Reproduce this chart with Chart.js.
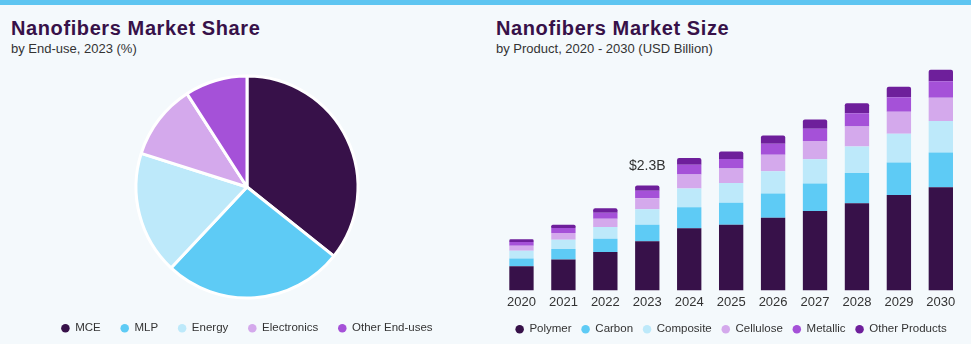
<!DOCTYPE html>
<html>
<head>
<meta charset="utf-8">
<script src="https://cdn.jsdelivr.net/npm/chart.js@4/dist/chart.umd.min.js"></script>
<style>
  html, body { margin: 0; padding: 0; }
  body { width: 971px; height: 344px; background: #f4f9fc; position: relative; overflow: hidden; font-family: "Liberation Sans", Arial, sans-serif; }
  .stripe { position: absolute; left: 0; top: 0; width: 971px; height: 5px; background: #5ec5f1; }
  .title { position: absolute; font-weight: bold; font-size: 20px; line-height: 20px; letter-spacing: 0.6px; color: #371149; white-space: nowrap; }
  .sub { position: absolute; font-size: 13px; line-height: 13px; color: #333; white-space: nowrap; }
  canvas { position: absolute; }
</style>
</head>
<body>
<div class="stripe"></div>
<div class="title" style="left:11px; top:18px;">Nanofibers Market Share</div>
<div class="sub" style="left:11px; top:42px;">by End-use, 2023 (%)</div>
<div class="title" style="left:496px; top:18px;">Nanofibers Market Size</div>
<div class="sub" style="left:496px; top:42px;">by Product, 2020 - 2030 (USD Billion)</div>
<canvas id="pie" width="485" height="284" style="left:0; top:60px; width:485px; height:284px;"></canvas>
<canvas id="bar" width="486" height="286" style="left:485px; top:60px; width:486px; height:286px;"></canvas>
<script>
// ---- Pie data ----
const endUses = ["MCE", "MLP", "Energy", "Electronics", "Other End-uses"];
const endUseShares = [35.7, 26.3, 17.9, 11.0, 9.1];
const endUseColors = ["#371149", "#5ecbf5", "#bde9fa", "#d4a9ec", "#a551d8"];

// ---- Bar data (USD Billion) ----
const years = ["2020", "2021", "2022", "2023", "2024", "2025", "2026", "2027", "2028", "2029", "2030"];
const polymer   = [0.53, 0.68, 0.84, 1.08, 1.36, 1.44, 1.59, 1.74, 1.91, 2.09, 2.26];
const carbon    = [0.17, 0.23, 0.29, 0.36, 0.46, 0.48, 0.53, 0.60, 0.66, 0.71, 0.76];
const composite = [0.17, 0.20, 0.26, 0.34, 0.41, 0.43, 0.49, 0.53, 0.58, 0.63, 0.69];
const cellulose = [0.11, 0.15, 0.18, 0.24, 0.31, 0.32, 0.36, 0.40, 0.44, 0.48, 0.51];
const metallic  = [0.08, 0.11, 0.13, 0.16, 0.21, 0.21, 0.24, 0.27, 0.29, 0.32, 0.36];
const otherProducts = [0.06, 0.07, 0.10, 0.12, 0.15, 0.16, 0.18, 0.20, 0.22, 0.23, 0.25];
const productNames = ["Polymer", "Carbon", "Composite", "Cellulose", "Metallic", "Other Products"];
const productColors = ["#371149", "#5ecbf5", "#bde9fa", "#d4a9ec", "#a551d8", "#6e1f9b"];
const calloutYear = "2023";
const calloutText = "$2.3B";

const FONT = "'Liberation Sans', Arial, sans-serif";
Chart.defaults.font.family = FONT;
Chart.defaults.color = "#333";
Chart.defaults.animation = false;

function legendLabels(chart) {
  const items = Chart.overrides.pie.plugins.legend.labels.generateLabels(chart);
  items.forEach(it => { it.lineWidth = 0; it.strokeStyle = it.fillStyle; });
  return items;
}

new Chart(document.getElementById("pie"), {
  type: "pie",
  data: {
    labels: endUses,
    datasets: [{
      data: endUseShares,
      backgroundColor: endUseColors,
      borderColor: "#ffffff",
      borderWidth: 3,
      radius: 111
    }]
  },
  options: {
    responsive: false,
    layout: { padding: { top: 11.5, left: 9, right: 0, bottom: 0 } },
    plugins: {
      tooltip: { enabled: false },
      legend: {
        position: "bottom",
        labels: {
          usePointStyle: true,
          pointStyle: "circle",
          boxWidth: 8,
          boxHeight: 6,
          padding: 20,
          color: "#333",
          font: { size: 11.5, family: FONT },
          generateLabels: legendLabels
        }
      }
    }
  }
});

const stacks = [polymer, carbon, composite, cellulose, metallic, otherProducts];

const calloutPlugin = {
  id: "callout",
  afterDatasetsDraw(chart) {
    const idx = years.indexOf(calloutYear);
    let total = 0;
    stacks.forEach(s => total += s[idx]);
    const x = chart.scales.x.getPixelForValue(idx);
    const y = chart.scales.y.getPixelForValue(total);
    const ctx = chart.ctx;
    ctx.save();
    ctx.font = "14px " + FONT;
    ctx.fillStyle = "#333";
    ctx.textAlign = "center";
    ctx.textBaseline = "middle";
    ctx.fillText(calloutText, x, y - 19);
    ctx.restore();
  }
};

new Chart(document.getElementById("bar"), {
  type: "bar",
  data: {
    labels: years,
    datasets: stacks.map((s, i) => ({
      label: productNames[i],
      data: s,
      backgroundColor: productColors[i],
      borderWidth: 0,
      borderRadius: i === stacks.length - 1 ? 2 : 0,
      categoryPercentage: 1,
      barPercentage: 0.58
    }))
  },
  options: {
    responsive: false,
    layout: { padding: { top: 2, left: 15.5, right: 9.2, bottom: 1 } },
    scales: {
      x: {
        stacked: true,
        grid: { display: false, drawTicks: false },
        border: { display: false },
        ticks: { padding: 5, color: "#333", font: { size: 13, lineHeight: 1, family: FONT } }
      },
      y: {
        stacked: true,
        display: false,
        min: 0,
        max: 5
      }
    },
    plugins: {
      tooltip: { enabled: false },
      legend: {
        position: "bottom",
        labels: {
          usePointStyle: true,
          pointStyle: "circle",
          boxWidth: 8,
          boxHeight: 6,
          padding: 10,
          color: "#333",
          font: { size: 11.5, family: FONT },
          generateLabels(chart) {
            const items = Chart.defaults.plugins.legend.labels.generateLabels(chart);
            items.forEach(it => { it.lineWidth = 0; it.strokeStyle = it.fillStyle; });
            return items;
          }
        }
      }
    }
  },
  plugins: [calloutPlugin]
});
</script>
</body>
</html>
